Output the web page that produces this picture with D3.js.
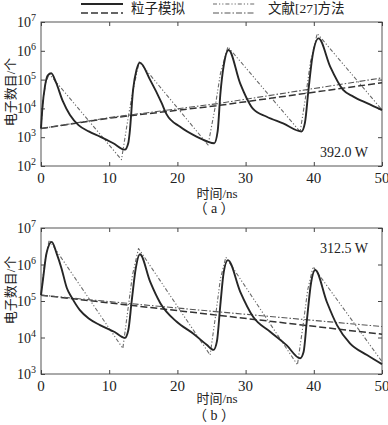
<!DOCTYPE html>
<html><head><meta charset="utf-8">
<script src="https://cdn.jsdelivr.net/npm/d3@7"></script>
<style>
body{margin:0;background:#fff;}
svg text{font-family:"Liberation Serif","Noto Sans CJK SC",serif;fill:#222;}
</style></head>
<body><svg id="c" width="388" height="425"></svg>
<script>
// ---- data (time in ns, log10 of electron count) ----
const xTicks = [0,10,20,30,40,50];
const aTicks = [2,3,4,5,6,7];
const bTicks = [3,4,5,6,7];
const legendNames = ["粒子模拟","文献[27]方法"];

const aSim = [[0,3.3],[0.2,4.0],[0.6,4.8],[1.0,5.15],[1.5,5.22],[2.2,4.9],[3.2,4.25],[4.25,3.77],[5.5,3.42],[7,3.2],[8.65,3.02],[10.6,2.79],[12.3,2.57],[12.8,2.8],[13.0,3.15],[13.5,4.64],[14.0,5.33],[14.5,5.59],[16,4.99],[17.7,4.18],[18.4,3.8],[20.4,3.36],[22.8,3.02],[24.3,2.86],[25.4,2.79],[25.9,3.2],[26.3,4.5],[26.8,5.5],[27.5,6.03],[29.2,4.87],[31.1,3.98],[33.1,3.71],[35.5,3.48],[38.2,3.2],[38.7,3.5],[39.2,4.6],[39.8,5.8],[40.7,6.43],[42.4,5.45],[44.3,4.64],[45.8,4.41],[47.8,4.18],[50,3.94]];
const aRef = [[0,3.3],[0.3,4.3],[0.7,4.9],[1.2,5.2],[11.8,2.22],[12.8,3.71],[13.5,4.64],[14.4,5.62],[24.5,2.73],[25.5,4.0],[26.3,5.2],[27.4,6.14],[38,3.19],[38.8,4.4],[39.5,5.6],[40.5,6.6],[50,3.95]];
const aSimAvg = [[0,3.3],[10,3.66],[26,4.1],[50,4.89]];
const aRefAvg = [[0,3.3],[10,3.68],[26,4.17],[50,5.06]];

const bSim = [[0,5.16],[0.3,5.6],[0.8,6.3],[1.57,6.62],[2.3,6.3],[3.0,5.9],[3.8,5.35],[4.5,5.1],[5.7,4.75],[7,4.52],[8.65,4.34],[10.8,4.15],[12.3,3.99],[12.8,4.2],[13.3,5.0],[13.9,5.9],[14.5,6.28],[16,5.53],[17.5,4.94],[19.9,4.43],[22.3,4.11],[24.3,3.8],[25.3,3.66],[25.8,3.9],[26.3,4.9],[26.8,5.8],[27.4,6.12],[29.2,5.26],[31.1,4.57],[33.6,4.16],[36,3.79],[38,3.43],[38.5,3.6],[39.0,4.5],[39.6,5.5],[40.2,5.85],[41.9,4.98],[43.4,4.34],[45.3,3.84],[47.8,3.52],[50,3.27]];
const bRef = [[0,5.2],[0.5,6.0],[1.2,6.67],[12,3.7],[12.7,4.7],[13.4,5.7],[14.3,6.44],[24.8,3.52],[25.6,4.6],[26.3,5.6],[27.1,6.2],[37.6,3.25],[38.4,4.3],[39.1,5.3],[39.9,5.94],[50,3.34]];
const bSimAvg = [[0,5.16],[25,4.63],[50,4.09]];
const bRefAvg = [[0,5.16],[25,4.72],[50,4.3]];

const svg = d3.select("#c");
const styles = {
  sim:{w:1.9,d:null,c:"#262626"},
  ref:{w:1.1,d:"4,2,1.2,2,1.2,2",c:"#6a6a6a"},
  simAvg:{w:1.5,d:"7,3",c:"#333"},
  refAvg:{w:1.1,d:"6,2,1.5,2",c:"#555"}
};

function panel(top,bottom,ticks,series,label,note,noteY,xlabY,capY,ylabY){
  const x = d3.scaleLinear().domain([0,50]).range([41,382]);
  const y = d3.scaleLog().domain([Math.pow(10,ticks[0]),Math.pow(10,ticks[ticks.length-1])]).range([bottom,top]);
  const g = svg.append("g");
  const fmt = ()=>"";
  const tv = ticks.map(t=>Math.pow(10,t));
  g.append("rect").attr("x",41).attr("y",top).attr("width",341).attr("height",bottom-top)
    .attr("fill","none").attr("stroke","#555").attr("stroke-width",1);
  const ax = [
    [d3.axisBottom(x).tickValues(xTicks).tickSize(-4).tickFormat(fmt),`translate(0,${bottom})`],
    [d3.axisTop(x).tickValues(xTicks).tickSize(-4).tickFormat(fmt),`translate(0,${top})`],
    [d3.axisLeft(y).tickValues(tv).tickSize(-4).tickFormat(fmt),`translate(41,0)`],
    [d3.axisRight(y).tickValues(tv).tickSize(-4).tickFormat(fmt),`translate(382,0)`]
  ];
  ax.forEach(([a,t])=>{
    const s=g.append("g").attr("transform",t).call(a);
    s.select(".domain").remove();
    s.selectAll("line").attr("stroke","#444");
  });
  g.selectAll(".xl").data(xTicks).join("text").attr("x",d=>x(d)).attr("y",bottom+17)
    .attr("text-anchor","middle").attr("font-size",15).text(d=>d);
  const yl = g.selectAll(".yl").data(ticks).join("text").attr("x",36).attr("y",d=>y(Math.pow(10,d))+5)
    .attr("text-anchor","end").attr("font-size",14);
  yl.append("tspan").text("10");
  yl.append("tspan").attr("dy",-6).attr("font-size",10).text(d=>d);
  const line = d3.line().x(d=>x(d[0])).y(d=>y(Math.pow(10,d[1]))).curve(d3.curveMonotoneX);
  const lineL = d3.line().x(d=>x(d[0])).y(d=>y(Math.pow(10,d[1])));
  series.forEach(([data,st,curved])=>{
    g.append("path").attr("d",(curved?line:lineL)(data)).attr("fill","none")
      .attr("stroke",st.c).attr("stroke-width",st.w).attr("stroke-dasharray",st.d)
      .attr("stroke-linejoin","round");
  });
  g.append("text").attr("x",368).attr("y",noteY).attr("text-anchor","end").attr("font-size",14).text(note);
  g.append("text").attr("x",217).attr("y",xlabY).attr("text-anchor","middle").attr("font-size",13).text("时间/ns");
  g.append("text").attr("x",214).attr("y",capY).attr("text-anchor","middle").attr("font-size",14).text(label);
  g.append("text").attr("transform",`translate(15,${ylabY}) rotate(-90)`).attr("text-anchor","middle")
    .attr("font-size",13).text("电子数目/个");
}

panel(22,166,aTicks,[[aSimAvg,styles.simAvg,false],[aRefAvg,styles.refAvg,false],[aRef,styles.ref,false],[aSim,styles.sim,true]],
  "（ a ）","392.0 W",157,198,213,92);
panel(228,374,bTicks,[[bSimAvg,styles.simAvg,false],[bRefAvg,styles.refAvg,false],[bRef,styles.ref,false],[bSim,styles.sim,true]],
  "（ b ）","312.5 W",253,403,420,290);

const lg = svg.append("g");
[[81,123,4,styles.sim],[81,123,13,styles.simAvg],[213,255,4,styles.ref],[213,255,13,styles.refAvg]].forEach(([x1,x2,yy,st])=>{
  lg.append("line").attr("x1",x1).attr("x2",x2).attr("y1",yy).attr("y2",yy)
    .attr("stroke",st.c).attr("stroke-width",st.w).attr("stroke-dasharray",st.d);
});
lg.append("text").attr("x",131).attr("y",13).attr("font-size",13.5).text(legendNames[0]);
lg.append("text").attr("x",268).attr("y",13).attr("font-size",13.5).text(legendNames[1]);
</script></body></html>
